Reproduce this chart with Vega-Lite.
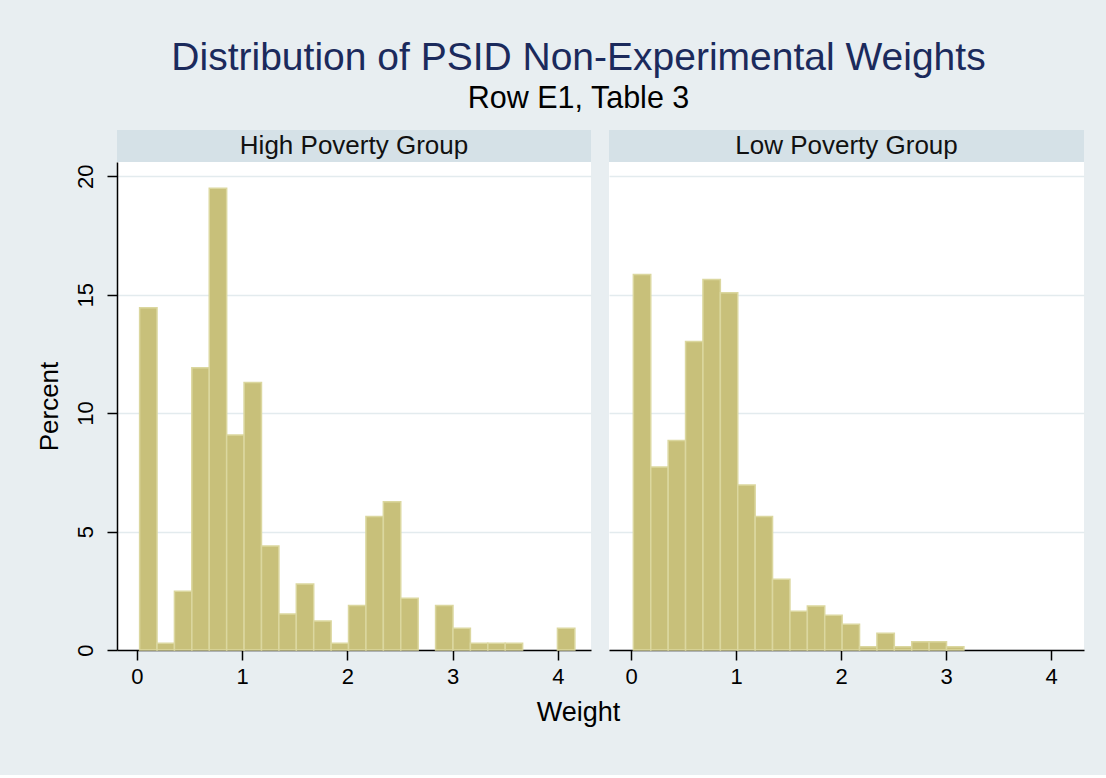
{
  "$schema": "https://vega.github.io/schema/vega-lite/v6.json",
  "background": "#E8EEF1",
  "padding": {"left": 35, "top": 38, "right": 23, "bottom": 50},
  "config": {
    "font": "Liberation Sans",
    "view": {"stroke": null},
    "axis": {
      "domainColor": "#000000",
      "domainWidth": 1.5,
      "tickColor": "#000000",
      "tickWidth": 1.5,
      "tickSize": 10,
      "labelColor": "#000000",
      "labelFontSize": 22,
      "labelFont": "Liberation Sans",
      "titleFont": "Liberation Sans",
      "titleFontSize": 26,
      "titleFontWeight": "normal",
      "titleColor": "#000000",
      "gridColor": "#E3EBEE",
      "gridWidth": 1.5
    }
  },
  "title": {
    "text": "Distribution of PSID Non-Experimental Weights",
    "subtitle": "Row E1, Table 3",
    "anchor": "middle",
    "font": "Liberation Sans",
    "fontSize": 39,
    "fontWeight": "normal",
    "color": "#1B2A5C",
    "subtitleFont": "Liberation Sans",
    "subtitleFontSize": 30.5,
    "subtitleColor": "#000000",
    "subtitlePadding": 6,
    "offset": 16,
    "dx": 18.5
  },
  "datasets": {
    "strips": [
      {"group": "High Poverty Group"},
      {"group": "Low Poverty Group"}
    ],
    "hist": [
      {"group": "High Poverty Group", "bin_start": 0.025, "bin_end": 0.1905, "percent": 14.45},
      {"group": "High Poverty Group", "bin_start": 0.1905, "bin_end": 0.356, "percent": 0.28},
      {"group": "High Poverty Group", "bin_start": 0.356, "bin_end": 0.5215, "percent": 2.48},
      {"group": "High Poverty Group", "bin_start": 0.5215, "bin_end": 0.687, "percent": 11.91},
      {"group": "High Poverty Group", "bin_start": 0.687, "bin_end": 0.8525, "percent": 19.49},
      {"group": "High Poverty Group", "bin_start": 0.8525, "bin_end": 1.018, "percent": 9.08},
      {"group": "High Poverty Group", "bin_start": 1.018, "bin_end": 1.1835, "percent": 11.29},
      {"group": "High Poverty Group", "bin_start": 1.1835, "bin_end": 1.349, "percent": 4.39},
      {"group": "High Poverty Group", "bin_start": 1.349, "bin_end": 1.5145, "percent": 1.52},
      {"group": "High Poverty Group", "bin_start": 1.5145, "bin_end": 1.68, "percent": 2.79},
      {"group": "High Poverty Group", "bin_start": 1.68, "bin_end": 1.8455, "percent": 1.22},
      {"group": "High Poverty Group", "bin_start": 1.8455, "bin_end": 2.011, "percent": 0.28},
      {"group": "High Poverty Group", "bin_start": 2.011, "bin_end": 2.1765, "percent": 1.88},
      {"group": "High Poverty Group", "bin_start": 2.1765, "bin_end": 2.342, "percent": 5.64},
      {"group": "High Poverty Group", "bin_start": 2.342, "bin_end": 2.5075, "percent": 6.26},
      {"group": "High Poverty Group", "bin_start": 2.5075, "bin_end": 2.673, "percent": 2.18},
      {"group": "High Poverty Group", "bin_start": 2.8385, "bin_end": 3.004, "percent": 1.88},
      {"group": "High Poverty Group", "bin_start": 3.004, "bin_end": 3.1695, "percent": 0.92},
      {"group": "High Poverty Group", "bin_start": 3.1695, "bin_end": 3.335, "percent": 0.28},
      {"group": "High Poverty Group", "bin_start": 3.335, "bin_end": 3.5005, "percent": 0.28},
      {"group": "High Poverty Group", "bin_start": 3.5005, "bin_end": 3.666, "percent": 0.28},
      {"group": "High Poverty Group", "bin_start": 3.997, "bin_end": 4.1625, "percent": 0.92},
      {"group": "Low Poverty Group", "bin_start": 0.022, "bin_end": 0.1877, "percent": 15.85},
      {"group": "Low Poverty Group", "bin_start": 0.1877, "bin_end": 0.3534, "percent": 7.72},
      {"group": "Low Poverty Group", "bin_start": 0.3534, "bin_end": 0.5191, "percent": 8.84},
      {"group": "Low Poverty Group", "bin_start": 0.5191, "bin_end": 0.6848, "percent": 13.02},
      {"group": "Low Poverty Group", "bin_start": 0.6848, "bin_end": 0.8505, "percent": 15.64},
      {"group": "Low Poverty Group", "bin_start": 0.8505, "bin_end": 1.0162, "percent": 15.08},
      {"group": "Low Poverty Group", "bin_start": 1.0162, "bin_end": 1.1819, "percent": 6.97},
      {"group": "Low Poverty Group", "bin_start": 1.1819, "bin_end": 1.3476, "percent": 5.64},
      {"group": "Low Poverty Group", "bin_start": 1.3476, "bin_end": 1.5133, "percent": 2.99},
      {"group": "Low Poverty Group", "bin_start": 1.5133, "bin_end": 1.679, "percent": 1.64},
      {"group": "Low Poverty Group", "bin_start": 1.679, "bin_end": 1.8447, "percent": 1.86},
      {"group": "Low Poverty Group", "bin_start": 1.8447, "bin_end": 2.0104, "percent": 1.47},
      {"group": "Low Poverty Group", "bin_start": 2.0104, "bin_end": 2.1761, "percent": 1.09},
      {"group": "Low Poverty Group", "bin_start": 2.1761, "bin_end": 2.3418, "percent": 0.14},
      {"group": "Low Poverty Group", "bin_start": 2.3418, "bin_end": 2.5075, "percent": 0.71},
      {"group": "Low Poverty Group", "bin_start": 2.5075, "bin_end": 2.6732, "percent": 0.14},
      {"group": "Low Poverty Group", "bin_start": 2.6732, "bin_end": 2.8389, "percent": 0.35},
      {"group": "Low Poverty Group", "bin_start": 2.8389, "bin_end": 3.0046, "percent": 0.35},
      {"group": "Low Poverty Group", "bin_start": 3.0046, "bin_end": 3.1703, "percent": 0.14}
    ]
  },
  "columns": 2,
  "spacing": {"row": 0, "column": 18},
  "bounds": "flush",
  "concat": [
    {
      "width": 474,
      "height": 32,
      "view": {"fill": "#D5E1E7", "stroke": null},
      "data": {"name": "strips"},
      "transform": [{"filter": "datum.group === 'High Poverty Group'"}],
      "mark": {"type": "text", "fontSize": 26, "color": "#111111", "baseline": "middle", "align": "center"},
      "encoding": {"text": {"field": "group", "type": "nominal"}}
    },
    {
      "width": 475,
      "height": 32,
      "view": {"fill": "#D5E1E7", "stroke": null},
      "data": {"name": "strips"},
      "transform": [{"filter": "datum.group === 'Low Poverty Group'"}],
      "mark": {"type": "text", "fontSize": 26, "color": "#111111", "baseline": "middle", "align": "center"},
      "encoding": {"text": {"field": "group", "type": "nominal"}}
    },
    {
      "width": 474,
      "height": 488,
      "view": {"fill": "#FFFFFF", "stroke": null},
      "data": {"name": "hist"},
      "transform": [{"filter": "datum.group === 'High Poverty Group'"}],
      "mark": {"type": "bar", "fill": "#C8C07A", "stroke": "#DBD79F", "strokeWidth": 1.5},
      "encoding": {
        "x": {
          "field": "bin_start",
          "type": "quantitative",
          "scale": {"domain": [-0.19, 4.316], "nice": false, "zero": false},
          "axis": {"values": [0, 1, 2, 3, 4], "grid": false, "title": "Weight", "titleX": 461, "labelPadding": 6, "titlePadding": 12, "titleFontSize": 27}
        },
        "x2": {"field": "bin_end"},
        "y": {
          "field": "percent",
          "type": "quantitative",
          "scale": {"domain": [0, 20.6], "nice": false},
          "axis": {"values": [0, 5, 10, 15, 20], "grid": true, "title": "Percent", "labelAngle": 270, "labelPadding": 10, "titlePadding": 12}
        },
        "y2": {"datum": 0}
      }
    },
    {
      "width": 475,
      "height": 488,
      "view": {"fill": "#FFFFFF", "stroke": null},
      "data": {"name": "hist"},
      "transform": [{"filter": "datum.group === 'Low Poverty Group'"}],
      "mark": {"type": "bar", "fill": "#C8C07A", "stroke": "#DBD79F", "strokeWidth": 1.5},
      "encoding": {
        "x": {
          "field": "bin_start",
          "type": "quantitative",
          "scale": {"domain": [-0.21, 4.314], "nice": false, "zero": false},
          "axis": {"values": [0, 1, 2, 3, 4], "grid": false, "title": null, "labelPadding": 6}
        },
        "x2": {"field": "bin_end"},
        "y": {
          "field": "percent",
          "type": "quantitative",
          "scale": {"domain": [0, 20.6], "nice": false},
          "axis": {"values": [0, 5, 10, 15, 20], "grid": true, "title": null, "labels": false, "ticks": false, "domain": false}
        },
        "y2": {"datum": 0}
      }
    }
  ]
}
